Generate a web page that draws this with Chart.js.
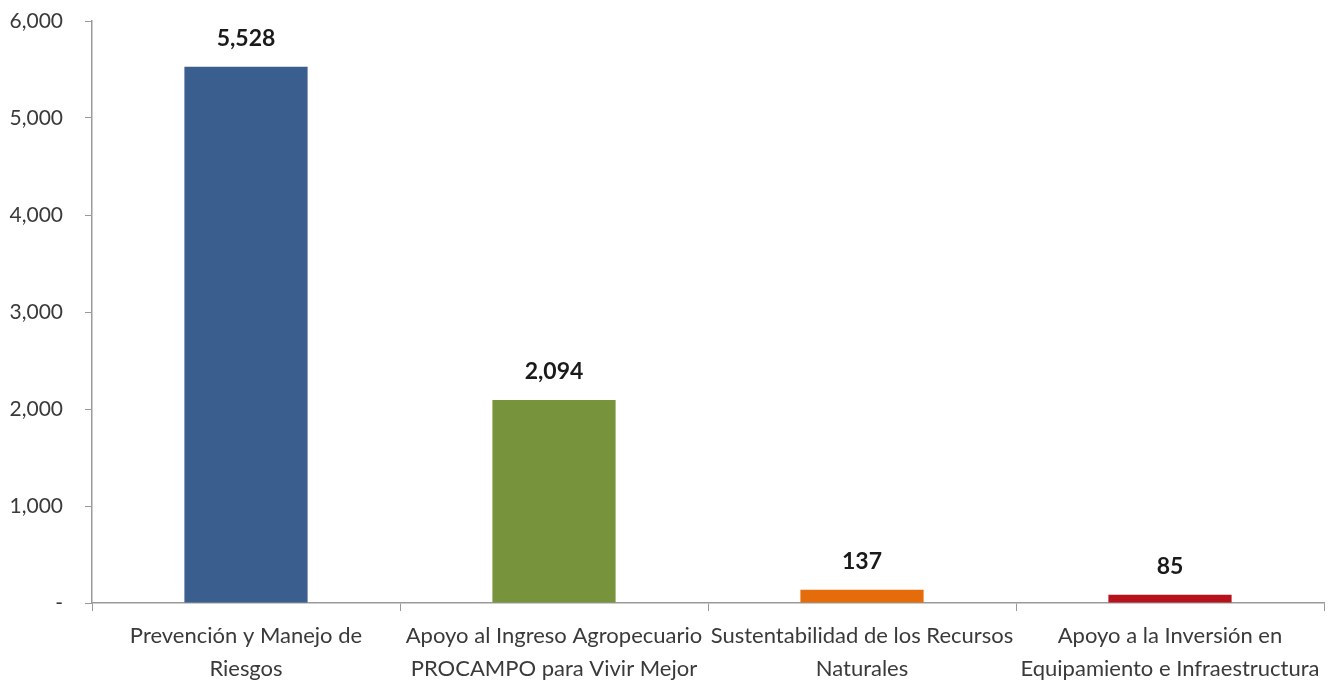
<!DOCTYPE html>
<html>
<head>
<meta charset="utf-8">
<script src="https://cdn.jsdelivr.net/npm/chart.js@4"></script>
<style>
  html, body { margin: 0; padding: 0; background: #ffffff; }
  #wrap { width: 1328px; height: 690px; }
</style>
</head>
<body>
<div id="wrap"><canvas id="programasChart" width="1328" height="690"></canvas></div>
<script>
// datos
const categorias = [
    ['Prevención y Manejo de', 'Riesgos'],
    ['Apoyo al Ingreso Agropecuario', 'PROCAMPO para Vivir Mejor'],
    ['Sustentabilidad de los Recursos', 'Naturales'],
    ['Apoyo a la Inversión en', 'Equipamiento e Infraestructura']
];
const montos = [5528, 2094, 137, 85];
const coloresBarras = ['#3A5F8E', '#77933C', '#E46C0A', '#B5121B'];
const ticksY = [0, 1000, 2000, 3000, 4000, 5000, 6000];

const fuente = 'Lato, "Open Sans", sans-serif';

// etiquetas de valor encima de cada barra
const etiquetasValor = {
    id: 'etiquetasValor',
    afterDatasetsDraw(chart) {
        const ctx = chart.ctx;
        const meta = chart.getDatasetMeta(0);
        ctx.save();
        ctx.font = 'bold 23px ' + fuente;
        ctx.fillStyle = '#1a1a1a';
        ctx.textAlign = 'center';
        ctx.textBaseline = 'middle';
        meta.data.forEach((bar, i) => {
            ctx.fillText(montos[i].toLocaleString('en-US'), bar.x, bar.y - 28);
        });
        ctx.restore();
    }
};

function crearGrafico() {
    const ctx = document.getElementById('programasChart').getContext('2d');
    new Chart(ctx, {
        type: 'bar',
        data: {
            labels: categorias,
            datasets: [{
                data: montos,
                backgroundColor: coloresBarras,
                borderWidth: 0,
                categoryPercentage: 1,
                barPercentage: 0.4
            }]
        },
        options: {
            responsive: false,
            maintainAspectRatio: false,
            animation: false,
            layout: {
                padding: { top: 21, right: 4, left: 0, bottom: 0 }
            },
            plugins: {
                legend: { display: false },
                tooltip: { enabled: false }
            },
            scales: {
                x: {
                    afterFit(scale) {
                        scale.height = 87;
                    },
                    grid: {
                        offset: true,
                        drawOnChartArea: false,
                        drawTicks: true,
                        tickLength: 8,
                        color: '#9a9a9a'
                    },
                    border: { color: '#9a9a9a', width: 1.5 },
                    ticks: {
                        color: '#3a3a3a',
                        font: { family: fuente, size: 22, lineHeight: 1.5 },
                        padding: 8,
                        maxRotation: 0,
                        autoSkip: false
                    }
                },
                y: {
                    min: 0,
                    max: 6000,
                    afterBuildTicks(axis) {
                        axis.ticks = ticksY.map(v => ({ value: v }));
                    },
                    afterFit(scale) {
                        // ancho fijo del eje y sin relleno extra arriba/abajo
                        scale.width = 92;
                        scale.paddingTop = 0;
                        scale.paddingBottom = 0;
                    },
                    grid: {
                        drawOnChartArea: false,
                        drawTicks: true,
                        tickLength: 7,
                        color: '#9a9a9a'
                    },
                    border: { color: '#9a9a9a', width: 1.5 },
                    ticks: {
                        color: '#3a3a3a',
                        font: { family: fuente, size: 21 },
                        padding: 22,
                        callback: function (valor) {
                            return valor === 0 ? '-' : valor.toLocaleString('en-US');
                        }
                    }
                }
            }
        },
        plugins: [etiquetasValor]
    });
}

document.addEventListener('DOMContentLoaded', crearGrafico);
</script>
</body>
</html>
